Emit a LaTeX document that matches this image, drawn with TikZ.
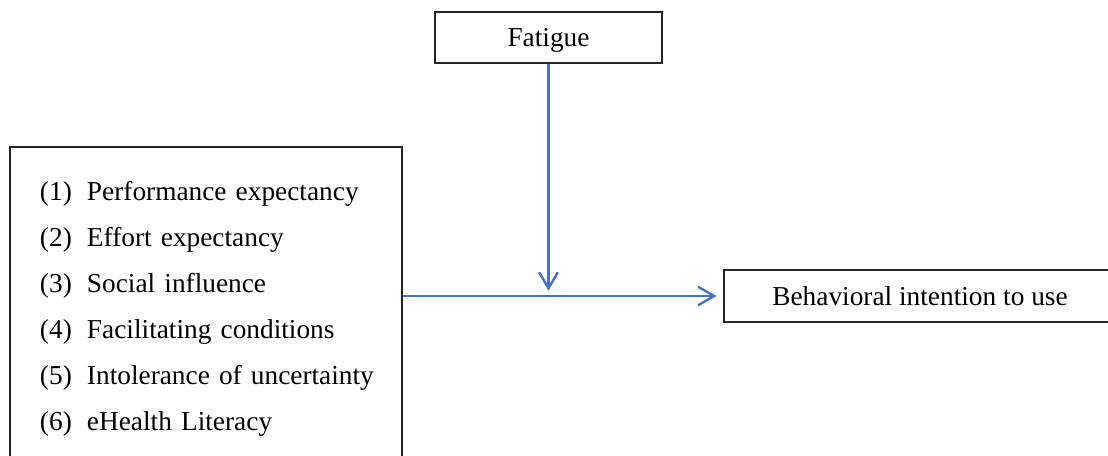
\documentclass[tikz,border=0pt]{standalone}
\usepackage{fontspec}
\setmainfont{Liberation Serif}
\usetikzlibrary{arrows.meta}
\definecolor{linkblue}{RGB}{68,114,196}
\newcommand{\numitem}[2]{\mbox{\makebox[35.25pt][l]{(#1)}#2}}

\begin{document}
\begin{tikzpicture}[x=0.75pt,y=-0.75pt]
        \useasboundingbox (0,0) rectangle (1108,455);
        %
        \tikzset{box/.style={draw=black!85, line width=1.3pt, inner sep=0pt, font=\fontsize{20.5}{34.5}\selectfont}}
        \tikzset{link/.style={draw=linkblue, line width=1.8pt, -{Straight Barb[length=12pt, width=14pt, line width=1.8pt]}}}
        %
        \draw (548.5,37.5) node[box, text depth=0pt, minimum width=170pt, minimum height=38pt](F){Fatigue};
        \draw (206,309) node[box, text width=249pt, inner xsep=22.5pt, minimum height=243pt, align=left](L){%
            \numitem{1}{Performance expectancy}\\
            \numitem{2}{Effort expectancy}\\
            \numitem{3}{Social influence}\\
            \numitem{4}{Facilitating conditions}\\
            \numitem{5}{Intolerance of uncertainty}\\
            \numitem{6}{eHealth Literacy}};
        \draw (920,296) node[box, text depth=0pt, minimum width=294pt, minimum height=39pt](R){Behavioral intention to use};
        %
        \draw[link, shorten >=5pt] (L.east |- R.west) -- (R.west);
        \draw[link, shorten >=4pt] (F.south) -- (F.south |- R.west);
    \end{tikzpicture}
\end{document}
